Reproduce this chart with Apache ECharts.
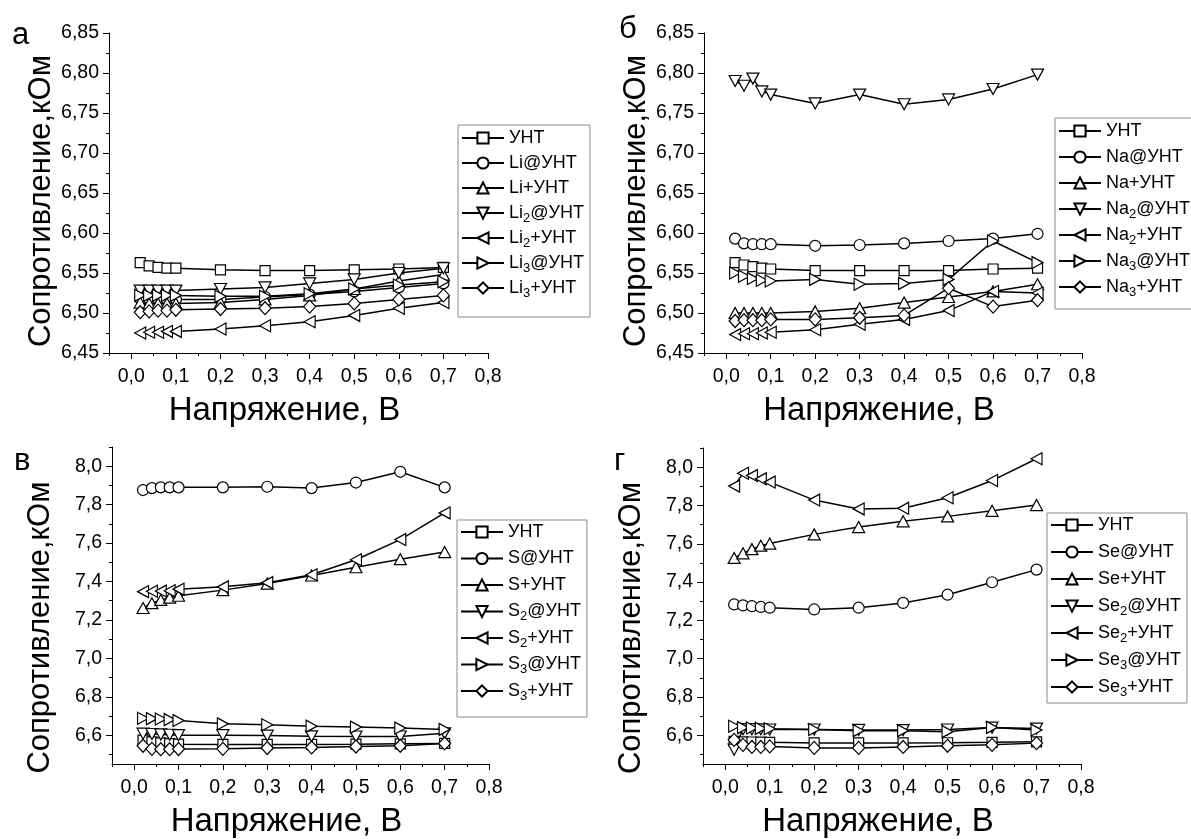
<!DOCTYPE html>
<html><head><meta charset="utf-8">
<script src="https://cdn.jsdelivr.net/npm/echarts@6/dist/echarts.min.js"></script>
<style>html,body{margin:0;padding:0;background:#fff}#c{width:1191px;height:839px}</style>
</head><body><div id="c"></div>
<script>
// ---------- data ----------
const voltage = [0.02, 0.04, 0.06, 0.08, 0.1, 0.2, 0.3, 0.4, 0.5, 0.6, 0.7];
const xTickLabels = [0, 0.1, 0.2, 0.3, 0.4, 0.5, 0.6, 0.7, 0.8];
const xMinorTicks = [-0.05, 0.05, 0.15, 0.25, 0.35, 0.45, 0.55, 0.65, 0.75];
const yTicksTop = [6.45, 6.50, 6.55, 6.60, 6.65, 6.70, 6.75, 6.80, 6.85];
const yMinorTop = [6.475, 6.525, 6.575, 6.625, 6.675, 6.725, 6.775, 6.825];
const yTicksBottom = [6.6, 6.8, 7.0, 7.2, 7.4, 7.6, 7.8, 8.0];
const yMinorBottom = [6.5, 6.7, 6.9, 7.1, 7.3, 7.5, 7.7, 7.9, 8.1];

const panelLetters = ['а', 'б', 'в', 'г'];
const xAxisTitle = 'Напряжение, В';
const yAxisTitle = 'Сопротивление,кОм';

// panel а (Li)
const namesLi = ['УНТ', 'Li@УНТ', 'Li+УНТ', 'Li2@УНТ', 'Li2+УНТ', 'Li3@УНТ', 'Li3+УНТ'];
const li_CNT   = [6.563, 6.559, 6.557, 6.556, 6.556, 6.554, 6.553, 6.553, 6.554, 6.555, 6.557];
const li_at    = [6.518, 6.517, 6.517, 6.517, 6.517, 6.517, 6.520, 6.523, 6.527, 6.532, 6.537];
const li_plus  = [6.513, 6.512, 6.512, 6.512, 6.512, 6.513, 6.517, 6.522, 6.530, 6.540, 6.548];
const li2_at   = [6.528, 6.528, 6.528, 6.528, 6.528, 6.530, 6.532, 6.537, 6.542, 6.550, 6.556];
const li2_plus = [6.475, 6.476, 6.476, 6.477, 6.477, 6.480, 6.484, 6.489, 6.497, 6.506, 6.513];
const li3_at   = [6.522, 6.522, 6.522, 6.522, 6.522, 6.521, 6.521, 6.524, 6.530, 6.535, 6.539];
const li3_plus = [6.501, 6.502, 6.503, 6.503, 6.504, 6.505, 6.506, 6.508, 6.512, 6.517, 6.522];

// panel б (Na)
const namesNa = ['УНТ', 'Na@УНТ', 'Na+УНТ', 'Na2@УНТ', 'Na2+УНТ', 'Na3@УНТ', 'Na3+УНТ'];
const na_CNT   = [6.563, 6.560, 6.558, 6.556, 6.555, 6.553, 6.553, 6.553, 6.553, 6.555, 6.556];
const na_at    = [6.593, 6.587, 6.586, 6.586, 6.586, 6.584, 6.585, 6.587, 6.590, 6.593, 6.599];
const na_plus  = [6.500, 6.500, 6.500, 6.500, 6.500, 6.502, 6.506, 6.513, 6.520, 6.527, 6.536];
const na2_at   = [6.790, 6.784, 6.793, 6.777, 6.773, 6.762, 6.773, 6.761, 6.767, 6.780, 6.798];
const na2_plus = [6.473, 6.474, 6.474, 6.475, 6.476, 6.479, 6.486, 6.492, 6.503, 6.527, 6.525];
const na3_at   = [6.550, 6.546, 6.543, 6.541, 6.540, 6.542, 6.536, 6.537, 6.542, 6.590, 6.563];
const na3_plus = [6.490, 6.491, 6.491, 6.491, 6.492, 6.492, 6.494, 6.497, 6.531, 6.508, 6.516];

// panel в (S)
const namesS = ['УНТ', 'S@УНТ', 'S+УНТ', 'S2@УНТ', 'S2+УНТ', 'S3@УНТ', 'S3+УНТ'];
const s_CNT   = [6.574, 6.565, 6.560, 6.556, 6.553, 6.552, 6.552, 6.552, 6.553, 6.555, 6.557];
const s_at    = [7.876, 7.886, 7.890, 7.890, 7.890, 7.890, 7.893, 7.886, 7.915, 7.971, 7.890];
const s_plus  = [7.262, 7.287, 7.304, 7.316, 7.326, 7.355, 7.389, 7.431, 7.474, 7.516, 7.553];
const s2_at   = [6.608, 6.606, 6.604, 6.602, 6.600, 6.600, 6.598, 6.594, 6.593, 6.593, 6.610];
const s2_plus = [7.347, 7.349, 7.350, 7.352, 7.360, 7.372, 7.394, 7.435, 7.513, 7.618, 7.757];
const s3_at   = [6.688, 6.686, 6.684, 6.681, 6.676, 6.659, 6.654, 6.647, 6.642, 6.637, 6.630];
const s3_plus = [6.545, 6.529, 6.527, 6.527, 6.528, 6.529, 6.533, 6.536, 6.541, 6.545, 6.557];

// panel г (Se)
const namesSe = ['УНТ', 'Se@УНТ', 'Se+УНТ', 'Se2@УНТ', 'Se2+УНТ', 'Se3@УНТ', 'Se3+УНТ'];
const se_CNT   = [6.568, 6.566, 6.565, 6.564, 6.563, 6.560, 6.560, 6.560, 6.561, 6.563, 6.566];
const se_at    = [7.283, 7.278, 7.274, 7.270, 7.266, 7.257, 7.266, 7.291, 7.334, 7.399, 7.465];
const se_plus  = [7.526, 7.550, 7.572, 7.590, 7.601, 7.649, 7.687, 7.717, 7.743, 7.772, 7.802];
const se2_at   = [6.525, 6.632, 6.632, 6.631, 6.630, 6.630, 6.628, 6.627, 6.630, 6.640, 6.635];
const se2_plus = [7.901, 7.968, 7.956, 7.939, 7.922, 7.828, 7.782, 7.785, 7.840, 7.930, 8.044];
const se3_at   = [6.647, 6.640, 6.638, 6.636, 6.634, 6.630, 6.624, 6.624, 6.619, 6.641, 6.627];
const se3_plus = [6.576, 6.550, 6.539, 6.539, 6.542, 6.534, 6.534, 6.539, 6.545, 6.550, 6.559];

// ---------- layout / style ----------
const FONT = '"Liberation Sans", Arial, sans-serif';
const symbols = [
  'rect', 'circle',
  'path://M5,0 L10,9 L0,9 Z',     // up
  'path://M0,0 L10,0 L5,9 Z',     // down
  'path://M0,5 L9,0 L9,10 Z',     // left
  'path://M0,0 L9,5 L0,10 Z',     // right
  'diamond'
];
const symbolSizes = [10, 11, [12, 11], [12, 11], [11, 12], [11, 12], [12, 13]];

const panels = [
  { names: namesLi, values: [li_CNT, li_at, li_plus, li2_at, li2_plus, li3_at, li3_plus],
    grid: { left: 109, top: 33, width: 379, height: 320 }, yMin: 6.45, yMax: 6.85,
    yTicks: yTicksTop, yMinor: yMinorTop, dec: 2, nameGap: 52, yShift: 16,
    legend: { left: 458, top: 125 }, gap: 1, pad: [1, 6, 17, 3], letter: [12, 20] },
  { names: namesNa, values: [na_CNT, na_at, na_plus, na2_at, na2_plus, na3_at, na3_plus],
    grid: { left: 704, top: 33, width: 378, height: 320 }, yMin: 6.45, yMax: 6.85,
    yTicks: yTicksTop, yMinor: yMinorTop, dec: 2, nameGap: 52, yShift: 16,
    legend: { left: 1055, top: 118 }, gap: 2, pad: [1, 6, 10, 3], letter: [619, 14] },
  { names: namesS, values: [s_CNT, s_at, s_plus, s2_at, s2_plus, s3_at, s3_plus],
    grid: { left: 112, top: 447, width: 377, height: 323 }, yMin: 6.45, yMax: 8.1,
    yTicks: yTicksBottom, yMinor: yMinorBottom, dec: 1, nameGap: 56, yShift: 44,
    legend: { left: 457, top: 520 }, gap: 2.5, pad: [0, 6, 14, 3], letter: [14, 446] },
  { names: namesSe, values: [se_CNT, se_at, se_plus, se2_at, se2_plus, se3_at, se3_plus],
    grid: { left: 703, top: 448, width: 378, height: 324 }, yMin: 6.45, yMax: 8.1,
    yTicks: yTicksBottom, yMinor: yMinorBottom, dec: 1, nameGap: 56, yShift: 44,
    legend: { left: 1047, top: 513 }, gap: 3, pad: [0, 6, 4, 3], letter: [614, 446] }
];

const grid = [], xAxis = [], yAxis = [], series = [], legend = [], graphic = [];
const fmtDec = d => v => v.toFixed(d).replace('.', ',');

panels.forEach((p, i) => {
  grid.push(Object.assign({ containLabel: false }, p.grid));
  xAxis.push({
    gridIndex: i, type: 'value', min: -0.05, max: 0.8, position: 'bottom',
    axisLine: { show: true, onZero: false, lineStyle: { color: '#000', width: 1 } },
    axisTick: { show: true, length: 6, customValues: xTickLabels, lineStyle: { color: '#000' } },
    axisLabel: { customValues: xTickLabels, formatter: fmtDec(1), fontSize: 19.5, color: '#000', fontFamily: FONT, margin: 14 },
    splitLine: { show: false },
    name: xAxisTitle, nameLocation: 'middle', nameGap: 41,
    nameTextStyle: { fontSize: 33, color: '#000', fontFamily: FONT, padding: [0, 28, 0, 0] }
  });
  xAxis.push({
    gridIndex: i, type: 'value', min: -0.05, max: 0.8, position: 'bottom',
    axisLine: { show: false, onZero: false },
    axisTick: { show: true, length: 3, customValues: xMinorTicks, lineStyle: { color: '#000' } },
    axisLabel: { show: false }, splitLine: { show: false }
  });
  yAxis.push({
    gridIndex: i, type: 'value', min: p.yMin, max: p.yMax, position: 'left',
    axisLine: { show: true, onZero: false, lineStyle: { color: '#000', width: 1 } },
    axisTick: { show: true, length: 6, customValues: p.yTicks, lineStyle: { color: '#000' } },
    axisLabel: { customValues: p.yTicks, formatter: fmtDec(p.dec), fontSize: 19.5, color: '#000', fontFamily: FONT, margin: 10 },
    splitLine: { show: false },
    name: yAxisTitle, nameLocation: 'middle', nameGap: p.nameGap,
    nameTextStyle: { fontSize: 31, color: '#000', fontFamily: FONT, padding: [0, p.yShift, 0, 0] }
  });
  yAxis.push({
    gridIndex: i, type: 'value', min: p.yMin, max: p.yMax, position: 'left',
    axisLine: { show: false, onZero: false },
    axisTick: { show: true, length: 3, customValues: p.yMinor, lineStyle: { color: '#000' } },
    axisLabel: { show: false }, splitLine: { show: false }
  });
  p.names.forEach((nm, k) => {
    series.push({
      type: 'line', name: nm, xAxisIndex: 2 * i, yAxisIndex: 2 * i,
      data: voltage.map((v, j) => [v, p.values[k][j]]),
      symbol: symbols[k], symbolSize: symbolSizes[k], showAllSymbol: true,
      color: '#000',
      lineStyle: { color: '#000', width: 1.5 },
      itemStyle: { color: '#fff', borderColor: '#000', borderWidth: 1.2 },
      emphasis: { disabled: true }, animation: false, z: 2 + k
    });
  });
  legend.push({
    data: p.names, orient: 'vertical', left: p.legend.left, top: p.legend.top,
    itemWidth: 42, itemHeight: 14, itemGap: p.gap,
    borderColor: '#8a8a8a', borderWidth: 1, padding: p.pad,
    selectedMode: false,
    formatter: n => n.replace(/([A-Za-z])(\d)/g, '$1{s|$2}'),
    textStyle: {
      fontSize: 18, color: '#000', fontFamily: FONT, lineHeight: 24,
      rich: { s: { fontSize: 13, fontFamily: FONT, color: '#000', lineHeight: 24, padding: [10, 0, 0, 0] } }
    }
  });
  graphic.push({
    type: 'text', left: p.letter[0], top: p.letter[1],
    style: { text: panelLetters[i], fontSize: 31, fontFamily: FONT, fill: '#000' }
  });
});

const chart = echarts.init(document.getElementById('c'), null, { renderer: 'canvas' });
chart.setOption({
  backgroundColor: '#fff', animation: false,
  grid, xAxis, yAxis, series, legend, graphic
});
</script>
</body></html>
